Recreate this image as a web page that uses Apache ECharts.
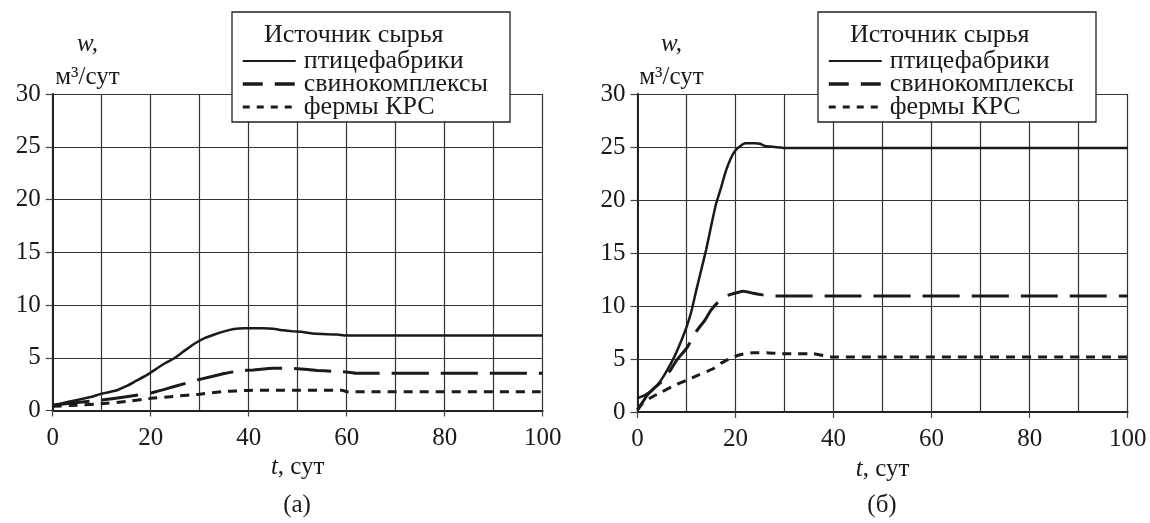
<!DOCTYPE html>
<html>
<head>
<meta charset="utf-8">
<script src="https://cdn.jsdelivr.net/npm/echarts@6/dist/echarts.min.js"></script>
<style>
  html, body { margin: 0; padding: 0; background: #fff; }
  #chart { width: 1150px; height: 523px; }
</style>
</head>
<body>
<div id="chart"></div>
<script>
// Biogas yield w (m3/day) versus time t (days) for three feedstock sources.
const seriesNames = ['птицефабрики', 'свинокомплексы', 'фермы КРС'];
const xTicks = [0, 20, 40, 60, 80, 100];
const yTicks = [0, 5, 10, 15, 20, 25, 30];

// Panel (а)
const tPoultryA = [0, 2, 4, 6, 8, 10, 12, 13, 15, 17, 19, 21, 23, 25, 27, 29, 31, 33, 35, 37, 39, 43, 45, 47, 49, 51, 53, 55, 58, 60, 100];
const wPoultryA = [0.5, 0.7, 0.9, 1.1, 1.3, 1.6, 1.8, 1.9, 2.3, 2.8, 3.3, 3.9, 4.5, 5.0, 5.7, 6.35, 6.85, 7.2, 7.5, 7.72, 7.8, 7.8, 7.75, 7.6, 7.5, 7.45, 7.3, 7.25, 7.2, 7.1, 7.1];
const tPigA = [0, 5, 10, 15, 20, 25, 30, 35, 38, 41, 45, 48, 50, 54, 57, 60, 62, 100];
const wPigA = [0.5, 0.75, 1.0, 1.3, 1.65, 2.3, 2.95, 3.5, 3.75, 3.85, 4.0, 4.0, 3.95, 3.8, 3.72, 3.65, 3.52, 3.52];
const tCattleA = [0, 5, 10, 15, 20, 25, 30, 35, 40, 45, 50, 55, 59, 60, 100];
const wCattleA = [0.4, 0.5, 0.65, 0.85, 1.15, 1.35, 1.55, 1.8, 1.9, 1.93, 1.93, 1.93, 1.93, 1.78, 1.78];

// Panel (б)
const tPoultryB = [0, 1.5, 3, 4.5, 6, 7.5, 9, 10, 11, 12, 13, 14, 15, 16, 17, 18, 19, 20, 21, 22, 24, 25, 26, 28, 30, 100];
const wPoultryB = [1.3, 1.6, 2.05, 2.8, 3.9, 5.2, 6.8, 8.0, 9.5, 11.5, 13.4, 15.3, 17.5, 19.6, 21.1, 22.7, 23.9, 24.7, 25.1, 25.35, 25.35, 25.3, 25.1, 25.0, 24.9, 24.9];
const tPigB = [0, 1, 2, 3.5, 5, 6.5, 8, 10, 12, 13.8, 15, 16.2, 17.9, 19, 20.2, 21.6, 23.6, 25.5, 27.7, 100];
const wPigB = [0.2, 0.9, 1.6, 2.3, 2.9, 3.8, 4.9, 6.0, 7.6, 8.7, 9.6, 10.25, 10.9, 11.1, 11.25, 11.4, 11.2, 11.05, 10.95, 10.95];
const tCattleB = [0, 1, 2.5, 5, 7.5, 10, 12.5, 15.5, 17, 18.9, 20.9, 23.6, 26.4, 29.1, 31, 35.9, 39.3, 100];
const wCattleB = [0.2, 0.8, 1.3, 1.9, 2.5, 3.0, 3.5, 4.1, 4.6, 5.05, 5.4, 5.6, 5.6, 5.5, 5.5, 5.5, 5.2, 5.2];

const FONT = 'Liberation Serif';
const INK = '#1a1a1a';

function pairs(t, w) { return t.map((v, i) => [v, w[i]]); }

const lineStyles = [
  { color: INK, width: 2.5, type: 'solid' },
  { color: INK, width: 3, type: [37, 12] },
  { color: INK, width: 3, type: [9, 7] }
];

function xAxisFor(gridIndex) {
  return {
    gridIndex, type: 'value', min: 0, max: 100, interval: 20,
    name: '{i|t}, сут', nameLocation: 'middle', nameGap: 44,
    nameTextStyle: {
      fontFamily: FONT, fontSize: 25, color: INK,
      rich: { i: { fontFamily: FONT, fontSize: 25, fontStyle: 'italic', color: INK } }
    },
    axisLine: { show: true, lineStyle: { color: '#222', width: 2 } },
    axisTick: { show: true, inside: false, length: 6, lineStyle: { color: '#444', width: 1.2 } },
    minorTick: { show: false, splitNumber: 2 },
    axisLabel: { fontFamily: FONT, fontSize: 25, color: INK, margin: 15, formatter: v => xTicks.includes(v) ? String(v) : '' },
    splitLine: { show: true, lineStyle: { color: '#333', width: 1.2 } },
    minorSplitLine: { show: true, lineStyle: { color: '#333', width: 1.2 } }
  };
}

function yAxisFor(gridIndex) {
  return {
    gridIndex, type: 'value', min: 0, max: 30, interval: 5,
    axisLine: { show: true, lineStyle: { color: '#222', width: 2 } },
    axisTick: { show: true, inside: false, length: 7, lineStyle: { color: '#444', width: 1.2 } },
    axisLabel: { fontFamily: FONT, fontSize: 25, color: INK, margin: 12, formatter: v => yTicks.includes(v) ? String(v) : '' },
    splitLine: { show: true, lineStyle: { color: '#333', width: 1.2 } }
  };
}

function seriesFor(gridIndex, sets) {
  return sets.map((d, k) => ({
    name: seriesNames[k], type: 'line',
    xAxisIndex: gridIndex, yAxisIndex: gridIndex,
    data: pairs(d[0], d[1]),
    symbol: 'none', showSymbol: false, smooth: 0.15,
    itemStyle: { color: INK },
    lineStyle: lineStyles[k],
    emphasis: { disabled: true }, silent: true, animation: false, z: 3
  }));
}

const legendIcons = [
  { name: seriesNames[0], lineStyle: { type: 'solid', width: 2.2, color: INK } },
  { name: seriesNames[1], lineStyle: { type: [20, 12], width: 3.5, color: INK } },
  { name: seriesNames[2], lineStyle: { type: [7, 7], width: 3, color: INK } }
];

function legendFor(left) {
  return {
    orient: 'vertical', left: left, top: 48, padding: 0, z: 6,
    itemWidth: 53, itemHeight: 14, itemGap: -3,
    selectedMode: false,
    itemStyle: { opacity: 0 },
    textStyle: { fontFamily: FONT, fontSize: 26, color: INK, lineHeight: 22, padding: [0, 0, 0, 3] },
    data: legendIcons
  };
}

function panelTexts(boxLeft, axisCenterX, labelCenterX, tag) {
  return [
    { type: 'rect', shape: { x: boxLeft, y: 12, width: 278, height: 110 },
      style: { fill: '#fff', stroke: '#222', lineWidth: 1.3 }, z: 2 },
    { type: 'text', x: boxLeft + 32, y: 35, z: 11,
      style: { text: 'Источник сырья', font: '26px "' + FONT + '"', fill: INK, textVerticalAlign: 'middle' } },
    { type: 'text', x: axisCenterX, y: 44, z: 11,
      style: { text: 'w,', font: 'italic 25px "' + FONT + '"', fill: INK, textAlign: 'center', textVerticalAlign: 'middle' } },
    { type: 'text', x: axisCenterX, y: 77, z: 11,
      style: { text: 'м³/сут', font: '25px "' + FONT + '"', fill: INK, textAlign: 'center', textVerticalAlign: 'middle' } },
    { type: 'text', x: labelCenterX, y: 505, z: 11,
      style: { text: tag, font: '25px "' + FONT + '"', fill: INK, textAlign: 'center', textVerticalAlign: 'middle' } }
  ];
}

const chart = echarts.init(document.getElementById('chart'), null, { renderer: 'canvas' });
chart.setOption({
  animation: false,
  backgroundColor: '#fff',
  grid: [
    { left: 52.7, right: 607.3, top: 94, bottom: 112.5 },
    { left: 637.5, right: 22.3, top: 94, bottom: 111 }
  ],
  xAxis: [xAxisFor(0), xAxisFor(1)],
  yAxis: [yAxisFor(0), yAxisFor(1)],
  legend: [legendFor(241), legendFor(827)],
  series: [
    ...seriesFor(0, [[tPoultryA, wPoultryA], [tPigA, wPigA], [tCattleA, wCattleA]]),
    ...seriesFor(1, [[tPoultryB, wPoultryB], [tPigB, wPigB], [tCattleB, wCattleB]])
  ],
  graphic: [
    ...panelTexts(232, 87.5, 297, '(а)'),
    ...panelTexts(818, 671.5, 882, '(б)')
  ]
});
</script>
</body>
</html>
